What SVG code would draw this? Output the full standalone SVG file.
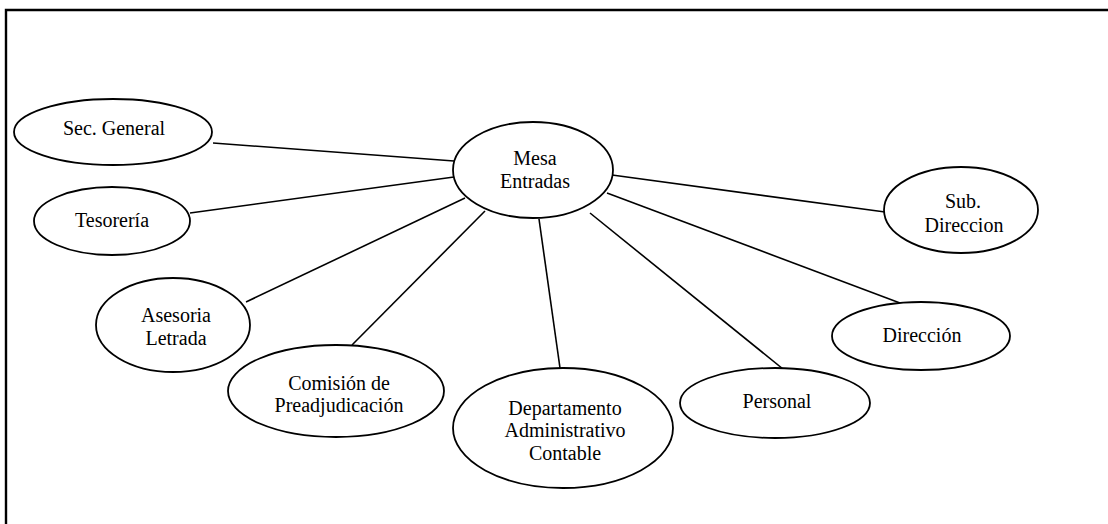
<svg xmlns="http://www.w3.org/2000/svg" width="1108" height="524" viewBox="0 0 1108 524">
<style>
.node ellipse{fill:#fff;stroke:#000;stroke-width:1.8}
.node text{font-family:"Liberation Serif","Times New Roman",serif;font-size:20px;fill:#000;text-anchor:middle}
#connectors line{stroke:#000;stroke-width:1.6}
.frame{stroke:#000;stroke-width:2.4;fill:none}
</style>
<rect width="1108" height="524" fill="#fff"/>
<path class="frame" d="M6,524 V10 H1108"/>
<g id="connectors">
<line x1="213" y1="143" x2="454" y2="161"/>
<line x1="190" y1="213" x2="454" y2="177"/>
<line x1="246" y1="302" x2="465" y2="198"/>
<line x1="352" y1="345" x2="485" y2="211"/>
<line x1="560" y1="368" x2="539" y2="219"/>
<line x1="783" y1="369" x2="590" y2="213"/>
<line x1="900" y1="303" x2="607" y2="193"/>
<line x1="885" y1="212" x2="612" y2="175"/>
</g>
<g id="mesa" class="node"><ellipse cx="533" cy="170" rx="80" ry="48"/><text x="535" y="165">Mesa</text><text x="535" y="188">Entradas</text></g>
<g id="sec-general" class="node"><ellipse cx="113" cy="132" rx="99" ry="33"/><text x="114" y="135">Sec. General</text></g>
<g id="tesoreria" class="node"><ellipse cx="112" cy="221" rx="78" ry="34"/><text x="112" y="227">Tesorería</text></g>
<g id="asesoria" class="node"><ellipse cx="173" cy="325" rx="77" ry="47"/><text x="176" y="322">Asesoria</text><text x="176" y="345">Letrada</text></g>
<g id="comision" class="node"><ellipse cx="336" cy="391" rx="108" ry="46"/><text x="339" y="390">Comisión de</text><text x="339" y="412">Preadjudicación</text></g>
<g id="departamento" class="node"><ellipse cx="563" cy="428" rx="110" ry="60"/><text x="565" y="415">Departamento</text><text x="565" y="437">Administrativo</text><text x="565" y="460">Contable</text></g>
<g id="personal" class="node"><ellipse cx="775" cy="403" rx="95" ry="35"/><text x="777" y="408">Personal</text></g>
<g id="direccion" class="node"><ellipse cx="921" cy="336" rx="89" ry="34"/><text x="922" y="342">Dirección</text></g>
<g id="sub-direccion" class="node"><ellipse cx="961" cy="210" rx="77" ry="43"/><text x="963" y="208">Sub.</text><text x="964" y="232">Direccion</text></g>
</svg>
